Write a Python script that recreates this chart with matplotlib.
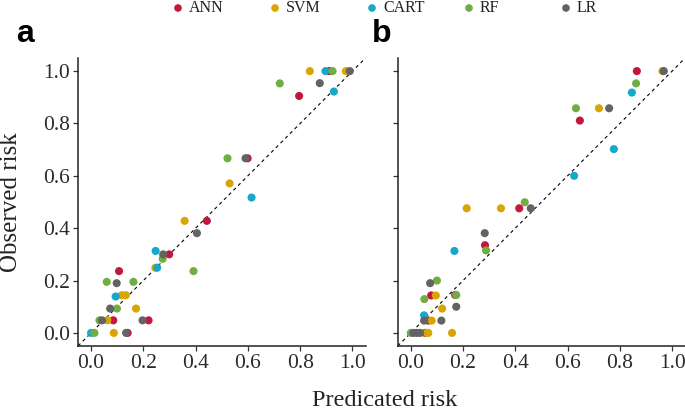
import matplotlib
matplotlib.use("Agg")
import matplotlib.pyplot as plt

# calibration points (predicted, observed)
models = ["ANN", "SVM", "CART", "RF", "LR"]
colors = ["#C4173E", "#D9A503", "#17A7C9", "#70AD43", "#636363"]

# panel a
a_ann_x = [0.911, 0.796, 0.599, 0.443, 0.299, 0.107, 0.085, 0.220, 0.140]
a_ann_y = [1.000, 0.905, 0.667, 0.428, 0.300, 0.236, 0.048, 0.048, 0.000]
a_svm_x = [0.837, 0.975, 0.530, 0.358, 0.246, 0.117, 0.133, 0.172, 0.062, 0.087]
a_svm_y = [1.000, 1.000, 0.571, 0.428, 0.249, 0.144, 0.144, 0.093, 0.048, 0.000]
a_cart_x = [0.897, 0.929, 0.614, 0.247, 0.253, 0.094, 0.000]
a_cart_y = [1.000, 0.922, 0.517, 0.313, 0.249, 0.139, 0.000]
a_rf_x = [0.924, 0.722, 0.522, 0.274, 0.392, 0.060, 0.162, 0.099, 0.032, 0.013]
a_rf_y = [1.000, 0.953, 0.667, 0.283, 0.236, 0.195, 0.195, 0.093, 0.048, 0.000]
a_lr_x = [0.990, 0.875, 0.591, 0.405, 0.276, 0.098, 0.073, 0.042, 0.197, 0.134]
a_lr_y = [1.000, 0.954, 0.667, 0.381, 0.300, 0.190, 0.093, 0.048, 0.048, 0.000]

# panel b
b_ann_x = [0.865, 0.647, 0.415, 0.284, 0.078, 0.170, 0.067, 0.055]
b_ann_y = [1.000, 0.811, 0.476, 0.335, 0.143, 0.145, 0.047, 0.000]
b_svm_x = [0.963, 0.720, 0.214, 0.345, 0.096, 0.120, 0.080, 0.061, 0.067, 0.158]
b_svm_y = [1.000, 0.858, 0.476, 0.476, 0.143, 0.093, 0.047, 0.000, 0.000, 0.000]
b_cart_x = [0.846, 0.777, 0.625, 0.167, 0.051]
b_cart_y = [0.918, 0.702, 0.600, 0.313, 0.067]
b_rf_x = [0.862, 0.632, 0.436, 0.288, 0.100, 0.174, 0.052, 0.000]
b_rf_y = [0.953, 0.858, 0.499, 0.315, 0.200, 0.145, 0.129, 0.000]
b_lr_x = [0.968, 0.759, 0.459, 0.283, 0.074, 0.174, 0.051, 0.117, 0.010, 0.023, 0.036]
b_lr_y = [1.000, 0.858, 0.476, 0.381, 0.190, 0.100, 0.047, 0.047, 0.000, 0.000, 0.000]

panel_a = [(a_ann_x, a_ann_y), (a_svm_x, a_svm_y), (a_cart_x, a_cart_y),
           (a_rf_x, a_rf_y), (a_lr_x, a_lr_y)]
panel_b = [(b_ann_x, b_ann_y), (b_svm_x, b_svm_y), (b_cart_x, b_cart_y),
           (b_rf_x, b_rf_y), (b_lr_x, b_lr_y)]

ticks = [0.0, 0.2, 0.4, 0.6, 0.8, 1.0]
tick_labels = ["0.0", "0.2", "0.4", "0.6", "0.8", "1.0"]

SERIF = "Liberation Serif"
W, H = 685, 409


def draw_panel(ax, series):
    ax.plot([-0.05, 1.05], [-0.05, 1.05], color="black", lw=0.8,
            linestyle=(0, (3, 3)), zorder=1)
    for (xs, ys), c in zip(series, colors):
        ax.scatter(xs, ys, s=34, color=c, edgecolors="none", zorder=2)
    ax.set_xlim(-0.05, 1.05)
    ax.set_ylim(-0.05, 1.05)
    ax.set_xticks(ticks)
    ax.set_xticklabels(tick_labels)
    ax.set_yticks(ticks)
    ax.set_yticklabels(tick_labels)
    for side in ["top", "right"]:
        ax.spines[side].set_visible(False)
    for side in ["left", "bottom"]:
        ax.spines[side].set_linewidth(1.1)
        ax.spines[side].set_color("#222222")
    ax.tick_params(length=3.5, width=0.9, color="#333333", pad=2,
                   labelsize=15.5, labelcolor="#2b2b2b")
    for lab in ax.get_xticklabels() + ax.get_yticklabels():
        lab.set_family(SERIF)


fig = plt.figure(figsize=(6.85, 4.09), dpi=100)
ax_a = fig.add_axes([78 / W, 1 - 346 / H, 287.5 / W, 288 / H])
ax_b = fig.add_axes([397.7 / W, 1 - 346 / H, 287.5 / W, 288 / H])
draw_panel(ax_a, panel_a)
draw_panel(ax_b, panel_b)
ax_b.set_yticklabels([])

# panel tags
fig.text(16 / W, 1 - 42 / H, "a", fontsize=23, fontweight="bold",
         family="Liberation Sans", va="baseline")
fig.text(372 / W, 1 - 42 / H, "b", fontsize=23, fontweight="bold",
         family="Liberation Sans", va="baseline")

# axis titles
fig.text(385 / W, 1 - 400 / H, "Predicated risk", fontsize=17.5, family=SERIF,
         ha="center", va="center", color="#222222")
fig.text(11 / W, 1 - 202 / H, "Observed risk", fontsize=18, family=SERIF,
         ha="center", va="center", rotation=90, color="#222222")

# legend along the top
leg = fig.add_axes([0, 0, 1, 1], facecolor="none")
leg.set_xlim(0, W)
leg.set_ylim(H, 0)
leg.axis("off")
for i, (name, c) in enumerate(zip(models, colors)):
    x0 = 178 + i * 97
    leg.scatter([x0], [8], s=30, color=c, edgecolors="none")
    leg.text(x0 + 11, 8, name, fontsize=11.5, family=SERIF, va="center",
             ha="left", color="#222222")

fig.savefig("out.png", dpi=100)
